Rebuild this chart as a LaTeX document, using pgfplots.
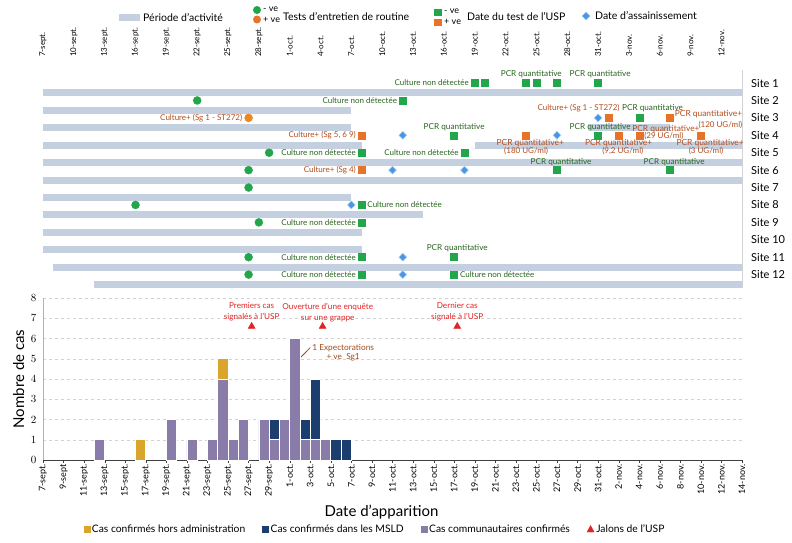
\documentclass[border=0pt]{standalone}
\usepackage{pgfplots}
\pgfplotsset{compat=1.18}
\usepackage{fontspec}
\setmainfont{Lato}
\usetikzlibrary{arrows.meta}
\definecolor{actbar}{RGB}{196,208,224}
\definecolor{gmark}{RGB}{34,165,75}
\definecolor{omark}{RGB}{230,115,40}
\definecolor{dmark}{RGB}{74,150,228}
\definecolor{gtext}{RGB}{40,100,30}
\definecolor{otext}{RGB}{180,75,25}
\definecolor{purp}{RGB}{137,124,168}
\definecolor{navy}{RGB}{28,62,110}
\definecolor{goldc}{RGB}{218,165,44}
\definecolor{mred}{RGB}{226,35,35}
\definecolor{brownt}{RGB}{160,75,30}
\newcommand{\pcr}{PCR quantitative}
\newcommand{\pcrp}{PCR quantitative+}
\begin{document}
\begin{tikzpicture}[
  gl/.style={text=gtext, font=\fontsize{8}{9}\selectfont, inner sep=1pt},
  pl/.style={text=gtext, font=\fontsize{8.2}{9}\selectfont, inner sep=1pt},
  ol/.style={text=otext, font=\fontsize{8}{9}\selectfont, inner sep=1pt},
  opl/.style={text=otext, font=\fontsize{8.4}{9}\selectfont, inner sep=1pt}]
\useasboundingbox (0pt,0pt) rectangle (792pt,-543pt);
% ---------- top legend ----------
\fill[actbar] (119pt,-14pt) rectangle (140pt,-21pt);
\node[anchor=west, inner sep=0pt, font=\fontsize{10.5}{11}\selectfont] at (143pt,-18pt) {Période d’activité};
\fill[gmark] (257pt,-10pt) circle (4pt);
\fill[omark] (257pt,-19.5pt) circle (4pt);
\node[anchor=west, inner sep=0pt, font=\fontsize{9}{10}\selectfont] at (263pt,-9pt) {- ve};
\node[anchor=west, inner sep=0pt, font=\fontsize{9}{10}\selectfont] at (263pt,-20pt) {+ ve};
\node[anchor=west, inner sep=0pt, font=\fontsize{10.5}{11}\selectfont] at (283pt,-17pt) {Tests d’entretien de routine};
\fill[gmark] (434pt,-9pt) rectangle (442pt,-16pt);
\fill[omark] (434pt,-19pt) rectangle (442pt,-26pt);
\node[anchor=west, inner sep=0pt, font=\fontsize{9}{10}\selectfont] at (444pt,-11pt) {- ve};
\node[anchor=west, inner sep=0pt, font=\fontsize{9}{10}\selectfont] at (444pt,-22pt) {+ ve};
\node[anchor=west, inner sep=0pt, font=\fontsize{10.5}{11}\selectfont] at (467pt,-17pt) {Date du test de l’USP};
\fill[dmark, draw=dmark!50!white, line width=0.5pt] (586pt,-12pt) -- (590pt,-16pt) -- (586pt,-20pt) -- (582pt,-16pt) -- cycle;
\node[anchor=west, inner sep=0pt, font=\fontsize{10.5}{11}\selectfont] at (595pt,-16pt) {Date d’assainissement};

% ---------- top timeline ----------
\begin{axis}[
  at={(43pt,-70pt)}, anchor=north west, scale only axis,
  width=699pt, height=222pt,
  xmin=0, xmax=68, ymin=0.25, ymax=13, y dir=reverse,
  clip=false,
  axis line style={draw=none},
  major tick length=0pt, tick style={draw=none},
  xtick={0,3,...,66},
  xticklabels={7-sept.,10-sept.,13-sept.,16-sept.,19-sept.,22-sept.,25-sept.,28-sept.,1-oct.,4-oct.,7-oct.,10-oct.,13-oct.,16-oct.,19-oct.,22-oct.,25-oct.,28-oct.,31-oct.,3-nov.,6-nov.,9-nov.,12-nov.},
  xticklabel pos=top,
  xticklabel style={rotate=90, anchor=west, font=\fontsize{8}{9}\selectfont, inner sep=0pt},
  xticklabel shift=13pt,
  ytick={1,...,12},
  yticklabels={Site 1,Site 2,Site 3,Site 4,Site 5,Site 6,Site 7,Site 8,Site 9,Site 10,Site 11,Site 12},
  yticklabel pos=right,
  yticklabel style={anchor=west, font=\fontsize{11}{12}\selectfont, inner sep=0pt},
  yticklabel shift=9pt,
  act/.style={actbar, line width=7pt, forget plot},
]
\draw[gray!35] (rel axis cs:1,0.02) -- (rel axis cs:1,1);
% activity periods
\addplot[act] coordinates {(0,1.57) (68,1.57)};
\addplot[act] coordinates {(0,2.57) (30,2.57)};
\addplot[act] coordinates {(0,3.57) (30,3.57)};
\addplot[act] coordinates {(53,3.57) (61,3.57)};
\addplot[act] coordinates {(0,4.57) (31,4.57)};
\addplot[act] coordinates {(42,4.57) (68,4.57)};
\addplot[act] coordinates {(0,5.57) (68,5.57)};
\addplot[act] coordinates {(0,6.57) (68,6.57)};
\addplot[act] coordinates {(0,7.57) (30,7.57)};
\addplot[act] coordinates {(0,8.57) (37,8.57)};
\addplot[act] coordinates {(0,9.57) (31,9.57)};
\addplot[act] coordinates {(0,10.57) (31,10.57)};
\addplot[act] coordinates {(1,11.57) (68,11.57)};
\addplot[act] coordinates {(5,12.57) (68,12.57)};
% routine tests
\addplot[only marks, mark=*, mark size=4pt, color=gmark] coordinates {
 (15,2) (22,5) (20,6) (20,7) (9,8) (21,9) (20,11) (20,12)};
\addplot[only marks, mark=*, mark size=4pt, color=omark!85!yellow] coordinates {(20,3)};
% USP tests
\addplot[only marks, mark=square*, mark size=3.5pt, color=gmark] coordinates {
 (42,1) (43,1) (47,1) (48,1) (50,1) (54,1)
 (35,2) (58,3) (40,4) (54,4) (31,5) (41,5) (50,6) (61,6)
 (31,8) (31,9) (31,11) (40,11) (31,12) (40,12)};
\addplot[only marks, mark=square*, mark size=3.5pt, color=omark] coordinates {
 (55,3) (61,3) (31,4) (47,4) (56,4) (58,4) (64,4) (31,6)};
% sanitation
\addplot[only marks, mark=diamond*, mark size=4pt, mark options={xscale=1.3, fill=dmark, draw=dmark!45!white, line width=0.5pt}] coordinates {
 (54,3) (35,4) (50,4) (34,6) (41,6) (30,8) (35,11) (35,12)};
% labels
\node[gl, anchor=east] at (axis cs:41.55,1) {Culture non détectée};
\node[pl] at (axis cs:47.5,0.48) {\pcr};
\node[pl] at (axis cs:54.2,0.48) {\pcr};
\node[gl, anchor=east] at (axis cs:34.55,2) {Culture non détectée};
\node[ol, anchor=east] at (axis cs:19.5,3) {Culture+ (Sg 1 - ST272)};
\node[ol] at (axis cs:52.1,2.43) {Culture+ (Sg 1 - ST272)};
\node[pl] at (axis cs:59.3,2.43) {\pcr};
\node[opl, anchor=west] at (axis cs:61.35,2.77) {\pcrp};
\node[ol] at (axis cs:65.9,3.4) {(120 UG/ml)};
\node[ol, anchor=east] at (axis cs:30.55,4) {Culture+ (Sg 5, 6 9)};
\node[pl] at (axis cs:40,3.52) {\pcr};
\node[pl] at (axis cs:54.2,3.52) {\pcr};
\node[opl] at (axis cs:47.4,4.45) {\pcrp};
\node[ol] at (axis cs:47.0,4.9) {(180 UG/ml)};
\node[opl] at (axis cs:56.0,4.45) {\pcrp};
\node[ol] at (axis cs:56.4,4.9) {(9,2 UG/ml)};
\node[opl] at (axis cs:60.6,3.63) {\pcrp};
\node[ol] at (axis cs:60.4,4.03) {(29 UG/ml)};
\node[opl] at (axis cs:64.9,4.45) {\pcrp};
\node[ol] at (axis cs:64.5,4.9) {(3 UG/ml)};
\node[gl, anchor=east] at (axis cs:30.55,5) {Culture non détectée};
\node[gl, anchor=east] at (axis cs:40.55,5) {Culture non détectée};
\node[ol, anchor=east] at (axis cs:30.55,6) {Culture+ (Sg 4)};
\node[pl] at (axis cs:50.4,5.56) {\pcr};
\node[pl] at (axis cs:61.4,5.56) {\pcr};
\node[gl, anchor=west] at (axis cs:31.45,8) {Culture non détectée};
\node[gl, anchor=east] at (axis cs:30.55,9) {Culture non détectée};
\node[gl, anchor=east] at (axis cs:30.55,11) {Culture non détectée};
\node[pl] at (axis cs:40.3,10.51) {\pcr};
\node[gl, anchor=east] at (axis cs:30.55,12) {Culture non détectée};
\node[gl, anchor=west] at (axis cs:40.45,12) {Culture non détectée};
\end{axis}

% ---------- bottom epi curve ----------
\begin{axis}[
  at={(43pt,-460pt)}, anchor=south west, scale only axis,
  width=699pt, height=162pt,
  xmin=0, xmax=68, ymin=0, ymax=8,
  ybar stacked, bar width=1,
  axis x line*=bottom, axis y line*=left,
  y axis line style={gray!60},
  x axis line style={black!75, line width=1pt, -},
  xtick={0,2,...,68},
  xticklabels={7-sept.,9-sept,11-sept.,13-sept.,15-sept.,17-sept.,19-sept.,21-sept.,23-sept.,25-sept.,27-sept.,29-sept.,1-oct.,3-oct.,5-oct.,7-oct.,9-oct.,11-oct.,13-oct.,15-oct.,17-oct.,19-oct.,21-oct.,23-oct.,25-oct.,27-oct.,29-oct.,31-oct.,2-nov.,4-nov.,6-nov.,8-nov.,10-nov.,12-nov.,14-nov.},
  xticklabel style={rotate=90, anchor=east, font=\fontsize{9}{10}\selectfont, inner sep=1pt},
  x tick style={black!75}, major tick length=3pt, tick align=outside,
  ytick={0,...,8}, y tick style={draw=none},
  yticklabel style={font=\fontsize{10.5}{11}\selectfont},
  ymajorgrids, grid style={dashed, gray!35},
  ylabel={Nombre de cas}, ylabel style={font=\fontsize{15}{16}\selectfont},
  xlabel={Date d’apparition}, xlabel style={font=\fontsize{15}{16}\selectfont, xshift=-11pt, yshift=-4pt},
  clip=false,
  legend style={at={(axis description cs:0.475,-0.426)}, anchor=center, draw=none, fill=none,
    legend columns=4, font=\fontsize{10.3}{11}\selectfont,
    /tikz/every even column/.append style={column sep=15pt}},
  legend cell align=left,
]
\addlegendimage{legend image code/.code={\fill[goldc] (0pt,-3pt) rectangle (6pt,3pt);}}
\addlegendentry{Cas confirmés hors administration}
\addlegendimage{legend image code/.code={\fill[navy] (0pt,-3pt) rectangle (6pt,3pt);}}
\addlegendentry{Cas confirmés dans les MSLD}
\addlegendimage{legend image code/.code={\fill[purp] (0pt,-3pt) rectangle (6pt,3pt);}}
\addlegendentry{Cas communautaires confirmés}
\addlegendimage{legend image code/.code={\fill[mred] (0pt,-3pt) -- (7pt,-3pt) -- (3.5pt,3.5pt) -- cycle;}}
\addlegendentry{Jalons de l’USP}
% community cases
\addplot[fill=purp, draw=white, line width=0.7pt] coordinates {
 (5.5,1) (9.5,0) (12.5,2) (14.5,1) (16.5,1) (17.5,4) (18.5,1) (19.5,2)
 (21.5,2) (22.5,1) (23.5,2) (24.5,6) (25.5,1) (26.5,1) (27.5,1) (28.5,0) (29.5,0)};
% LTC cases
\addplot[fill=navy, draw=white, line width=0.7pt] coordinates {
 (5.5,0) (9.5,0) (12.5,0) (14.5,0) (16.5,0) (17.5,0) (18.5,0) (19.5,0)
 (21.5,0) (22.5,1) (23.5,0) (24.5,0) (25.5,1) (26.5,3) (27.5,0) (28.5,1) (29.5,1)};
% outside
\addplot[fill=goldc, draw=white, line width=0.7pt] coordinates {
 (5.5,0) (9.5,1) (12.5,0) (14.5,0) (16.5,0) (17.5,1) (18.5,0) (19.5,0)
 (21.5,0) (22.5,0) (23.5,0) (24.5,0) (25.5,0) (26.5,0) (27.5,0) (28.5,0) (29.5,0)};
\draw[black!75, line width=1pt] (axis cs:0,0) -- (axis cs:68,0);
\node[align=center, text=mred, font=\fontsize{8.2}{11}\selectfont] at (axis cs:20.3,7.3) {Premiers cas\\signalés à l’USP};
\node[align=center, text=mred, font=\fontsize{8.2}{11}\selectfont] at (axis cs:27.7,7.3) {Ouverture d’une enquête\\sur une grappe};
\node[align=center, text=mred, font=\fontsize{8.2}{11}\selectfont] at (axis cs:40.3,7.3) {Dernier cas\\signalé à l’USP};
\node[align=center, text=brownt, font=\fontsize{8.3}{9.5}\selectfont] at (axis cs:29.2,5.3) {1 Expectorations\\+ ve\ \ Sg1};
\draw[brownt, line width=0.8pt, -{Latex[length=4pt,width=3.5pt]}] (axis cs:26.0,5.55) -- (axis cs:24.7,4.88);
\end{axis}

% milestone markers
\begin{axis}[
  at={(43pt,-460pt)}, anchor=south west, scale only axis,
  width=699pt, height=162pt,
  xmin=0, xmax=68, ymin=0, ymax=8, hide axis, clip=false,
]
\addplot[only marks, mark=triangle*, mark size=4pt, color=mred] coordinates {(20.3,6.6) (27.2,6.6) (40.3,6.6)};
\end{axis}
\end{tikzpicture}
\end{document}
